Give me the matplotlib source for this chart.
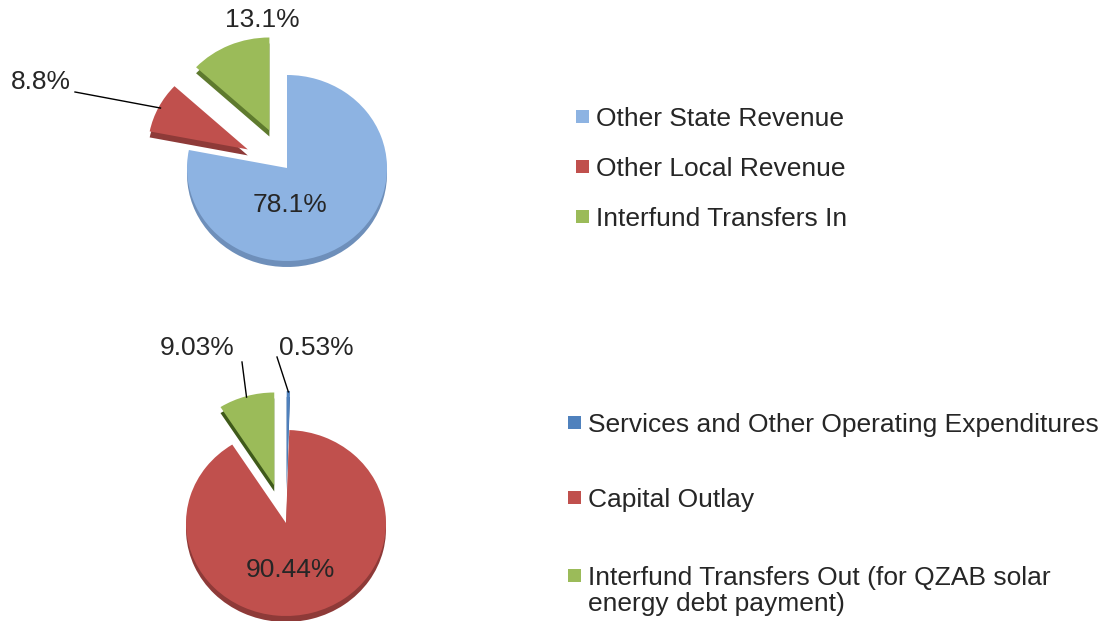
import matplotlib
matplotlib.use("Agg")
import matplotlib.pyplot as plt
from matplotlib.patches import Rectangle
import numpy as np

plt.rcParams['font.family'] = ['Liberation Sans', 'DejaVu Sans']

# ---- data ----
rev_labels = ["Other State Revenue", "Other Local Revenue", "Interfund Transfers In"]
rev_values = [78.1, 8.8, 13.1]
rev_pct_text = ["78.1%", "8.8%", "13.1%"]
rev_colors = ["#8DB3E2", "#C0504D", "#9BBB59"]
rev_dark = ["#6E8FBA", "#8E3A38", "#5E7A2E"]
rev_explode = [0.0, 0.44, 0.44]

exp_labels = ["Services and Other Operating Expenditures", "Capital Outlay",
              "Interfund Transfers Out (for QZAB solar\nenergy debt payment)"]
exp_values = [0.53, 90.44, 9.03]
exp_pct_text = ["0.53%", "90.44%", "9.03%"]
exp_colors = ["#4F81BD", "#C0504D", "#9BBB59"]
exp_dark = ["#3A6296", "#8E3A38", "#3F5A1A"]
exp_explode = [0.42, 0.0, 0.42]

W, H = 1115, 621
SY = 0.93  # vertical squash to mimic the tilted 3-D pie
fig = plt.figure(figsize=(W / 100, H / 100), dpi=100)
ax = fig.add_axes([0, 0, 1, 1])

def py(y_px):
    """pixel row (from top) -> data y"""
    return (H - y_px) / SY

TXT = "#262626"
FS = 19
R = 100

def draw_pie(values, colors, dark, explode, center):
    ex = [e * R for e in explode]  # pie's explode is in data units
    # darker copy, shifted down slightly, for the 3-D edge look
    ax.pie(values, colors=dark, explode=ex, startangle=90, counterclock=False,
           center=(center[0], center[1] - 6 / SY), radius=R,
           wedgeprops=dict(linewidth=0))
    wedges, _ = ax.pie(values, colors=colors, explode=ex, startangle=90,
                       counterclock=False, center=center, radius=R,
                       wedgeprops=dict(linewidth=0))
    return wedges

def arc_mid(w, frac=1.0):
    ang = np.deg2rad((w.theta1 + w.theta2) / 2)
    cx, cy = w.center
    return cx + frac * w.r * np.cos(ang), cy + frac * w.r * np.sin(ang)

# ---- top pie ----
tw = draw_pie(rev_values, rev_colors, rev_dark, rev_explode, (287, py(168)))
ax.text(290, py(205), rev_pct_text[0], fontsize=FS, color=TXT, ha='center', va='center')
ax.text(262, py(20), rev_pct_text[2], fontsize=FS, color=TXT, ha='center', va='center')
ax.text(41, py(82), rev_pct_text[1], fontsize=FS, color=TXT, ha='center', va='center')
x1, y1 = arc_mid(tw[1], 0.98)
ax.plot([75, x1], [py(92), y1], color='black', lw=1.0)

# ---- bottom pie ----
bw = draw_pie(exp_values, exp_colors, exp_dark, exp_explode, (286, py(523)))
ax.text(290, py(570), exp_pct_text[1], fontsize=FS, color=TXT, ha='center', va='center')
ax.text(197, py(348), exp_pct_text[2], fontsize=FS, color=TXT, ha='center', va='center')
ax.text(316, py(348), exp_pct_text[0], fontsize=FS, color=TXT, ha='center', va='center')
gx, gy = arc_mid(bw[2], 0.99)
ax.plot([242, gx], [py(362), gy], color='black', lw=1.0)
bx, by = arc_mid(bw[0], 0.99)
ax.plot([277, bx], [py(357), by], color='black', lw=1.0)

# ---- legends ----
def legend(labels, colors, x_sq, x_txt, ys):
    for lab, col, y in zip(labels, colors, ys):
        ax.add_patch(Rectangle((x_sq, py(y + 6)), 13, 13 / SY, color=col, lw=0))
        ax.text(x_txt, py(y - 10), lab, fontsize=FS, color=TXT, ha='left', va='top',
                linespacing=1.1)

legend(rev_labels, rev_colors, 576, 596, [117, 167, 217])
legend(exp_labels, exp_colors, 568, 588, [423, 498, 576])

ax.set_aspect('auto')
ax.set_xlim(0, W)
ax.set_ylim(0, H / SY)
ax.axis('off')
fig.savefig("out.png", dpi=100)
